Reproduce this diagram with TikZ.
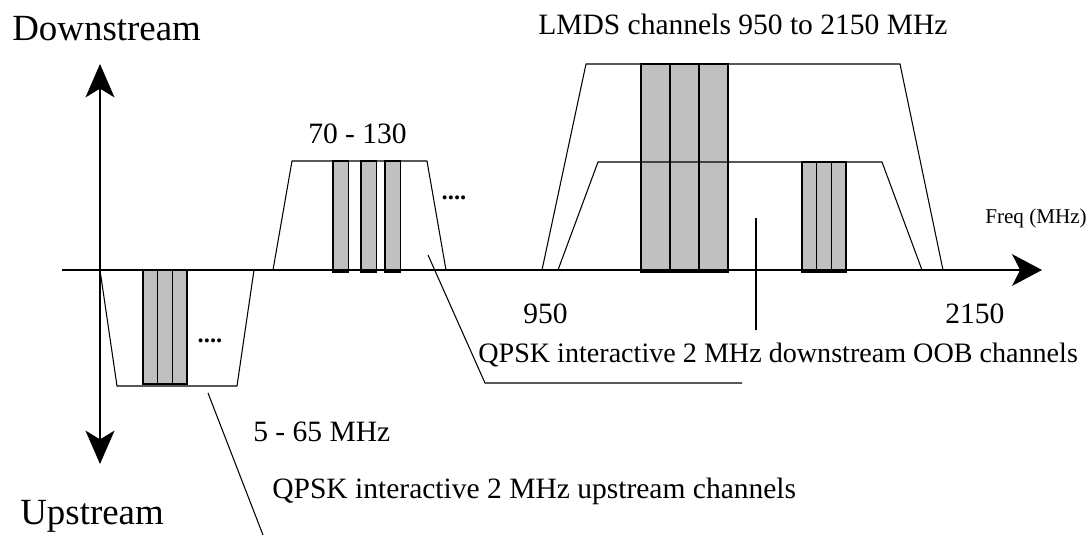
\documentclass[tikz,border=0pt]{standalone}
\usepackage{fontspec}
\setmainfont{Liberation Serif}
\usetikzlibrary{arrows.meta}

\tikzset{
  axis/.style={line width=0.9pt},
  band/.style={line width=0.6pt},
  chan/.style={draw=black, fill=chgray, line width=0.6pt},
  lbl/.style={inner sep=0pt, anchor=base west, font=\fontsize{16.8}{19}\selectfont},
  biglbl/.style={lbl, font=\fontsize{21}{24}\selectfont},
  smalllbl/.style={lbl, font=\fontsize{12}{14}\selectfont},
  dots/.style={inner sep=0pt, font=\fontsize{14}{16}\selectfont\bfseries},
}
\definecolor{chgray}{RGB}{192,192,192}

\begin{document}
\begin{tikzpicture}[x=0.02cm, y=-0.02cm]
	\useasboundingbox (0,0) rectangle (1090,535);

	% channels
	\foreach \x in {143,157.7,172.3} \filldraw[chan] (\x,270) rectangle ++(14.7,114);
	\foreach \x in {333,361,385} \filldraw[chan] (\x,161) rectangle ++(15.5,111);
	\foreach \x in {641,670,699} \filldraw[chan] (\x,64) rectangle ++(29,208);
	\foreach \x in {802,816.7,831.3} \filldraw[chan] (\x,162) rectangle ++(14.7,110);

	% bands
	\draw[band] (100,270) -- (117,386) -- (237,386) -- (254,270);
	\draw[band] (273,270) -- (292,161) -- (427,161) -- (446,270);
	\draw[band] (542,270) -- (586,64) -- (900,64) -- (943,270);
	\draw[band] (558,270) -- (598,162) -- (882,162) -- (922,270);

	% axes
	\draw[axis, {Stealth[length=19pt, width=16.5pt, inset=5pt]}-{Stealth[length=19pt, width=16.5pt, inset=5pt]}] (100,64) -- (100,464);
	\draw[axis, -{Stealth[length=17pt, width=18pt, inset=4.5pt]}] (62,270) -- (1042,270);

	% labels
	\node[biglbl] (down) at (12,40) {Downstream};
	\node[biglbl] (up) at (20,524) {Upstream};
	\node[lbl] (lmds) at (538,34) {LMDS channels 950 to 2150 MHz};
	\node[lbl] (midband) at (308,143) {70 - 130};
	\node[lbl] (lowband) at (253,441) {5 - 65 MHz};
	\node[lbl] (f950) at (523,323) {950};
	\node[lbl] (f2150) at (945,323) {2150};
	\node[smalllbl] (freq) at (985,223) {Freq (MHz)};
	\node[lbl, font=\fontsize{16}{19}\selectfont] (qpskdown) at (478,362) {QPSK interactive 2 MHz downstream OOB channels};
	\node[lbl] (qpskup) at (272,498) {QPSK interactive 2 MHz upstream channels};
	\node[dots] (updots) at (210,341) {....};
	\node[dots] (middots) at (454,198) {....};

	% leader lines
	\coordinate (midtip) at (428,255);
	\coordinate (midknee) at (485,383);
	\coordinate (midend) at (742,383);
	\coordinate (lmdstip) at (756,218);
	\coordinate (lmdsend) at (756,330);
	\coordinate (uptip) at (208,393);
	\coordinate (upend) at (263,535);
	\draw[band] (midtip) -- (midknee) -- (midend);
	\draw[band] (lmdstip) -- (lmdsend);
	\draw[band] (uptip) -- (upend);
\end{tikzpicture}
\end{document}
